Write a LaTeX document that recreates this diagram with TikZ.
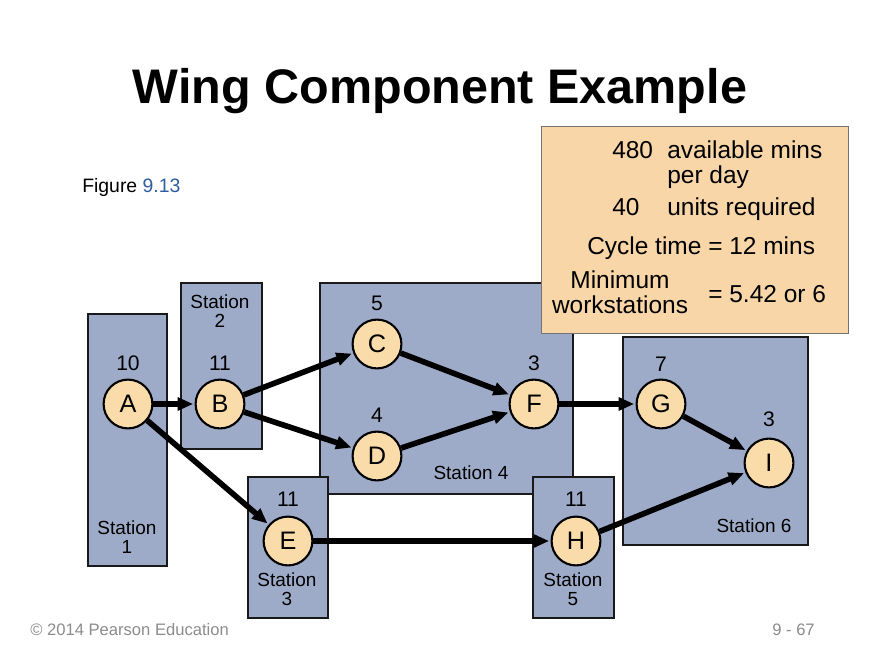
\documentclass[tikz,border=0pt]{standalone}
\usepackage{fontspec}
\setmainfont{Liberation Sans}
\usetikzlibrary{arrows.meta,positioning}
\definecolor{stationblue}{RGB}{158,171,200}
\definecolor{taskfill}{RGB}{250,220,170}
\definecolor{infofill}{RGB}{248,214,168}
\definecolor{figblue}{RGB}{46,94,160}

\begin{document}
\begin{tikzpicture}[
    x=0.025cm, y=-0.025cm,
    station/.style={draw=black!90, line width=2pt, fill=stationblue},
    task/.style={circle, draw, line width=1.5pt, fill=taskfill, minimum size=1.22cm, inner sep=0pt, font=\fontsize{18}{18}\selectfont},
    wt/.style={inner sep=0pt, font=\fontsize{15}{15}\selectfont},
    stlabel/.style={align=center, inner sep=0pt, font=\fontsize{13.5}{13.5}\selectfont},
    databox/.style={draw=black!55, line width=0.6pt, fill=infofill, minimum width=7.675cm, minimum height=5.175cm},
    infotext/.style={anchor=base west, inner sep=0pt, font=\fontsize{17.4}{20}\selectfont},
    flow/.style={-{Triangle[length=11pt, width=9pt]}, line width=4pt, shorten >=1pt}
]
\fill[white] (0,0) rectangle (880,660);
\useasboundingbox (0,0) rectangle (880,660);

\node[anchor=base, font=\bfseries\fontsize{34.5}{40}\selectfont] (title) at (440,103) {Wing Component Example};
\node[anchor=base west, inner sep=0pt, font=\fontsize{13.8}{14}\selectfont] (figref) at (82,192) {Figure \textcolor{figblue}{9.13}};

\draw[station] (88,314) rectangle (167,566);
\draw[station] (181,283) rectangle (262,449);
\draw[station] (320,283) rectangle (573,494);
\draw[station] (248,477) rectangle (328,618);
\draw[station] (533,477) rectangle (614,618);
\draw[station] (623,337) rectangle (808,545);

\node[stlabel] (st1) at (127,537) {Station\\1};
\node[stlabel] (st2) at (220,311) {Station\\2};
\node[stlabel] (st3) at (287,589) {Station\\3};
\node[stlabel] (st4) at (471,473) {Station 4};
\node[stlabel] (st5) at (573,589) {Station\\5};
\node[stlabel] (st6) at (754,526) {Station 6};

\node[databox] (data) at (694.5,229.5) {};
\node[infotext] (n480) at (612,158) {480};
\node[infotext] (avail) at (667,158) {available mins};
\node[infotext] (perday) at (667,183) {per day};
\node[infotext] (n40) at (612,215) {40};
\node[infotext] (units) at (667,215) {units required};
\node[infotext] (cycle) at (587,254) {Cycle time = 12 mins};
\node[infotext, anchor=base] (minimum) at (620,288) {Minimum};
\node[infotext, anchor=base] (workst) at (620,313) {workstations};
\node[infotext] (minval) at (708,302) {= 5.42 or 6};

\node[task] (A) at (128,404) {A};
\node[task] (B) at (220,404) {B};
\node[task] (C) at (377,344) {C};
\node[task] (D) at (377,456) {D};
\node[task] (E) at (288,541) {E};
\node[task] (F) at (534,404) {F};
\node[task] (G) at (661,404) {G};
\node[task] (H) at (576,541) {H};
\node[task] (I) at (769,463) {I};

\node[wt, above=0.19cm of A] (tA) {10};
\node[wt, above=0.19cm of B] (tB) {11};
\node[wt, above=0.19cm of C] (tC) {5};
\node[wt, above=0.19cm of D] (tD) {4};
\node[wt, above=0.21cm of E] (tE) {11};
\node[wt, above=0.19cm of F] (tF) {3};
\node[wt, above=0.17cm of G] (tG) {7};
\node[wt, above=0.21cm of H] (tH) {11};
\node[wt, above=0.26cm of I] (tI) {3};

\draw[flow] (A) -- (B);
\draw[flow] (A) -- (E);
\draw[flow] (B) -- (C);
\draw[flow] (B) -- (D);
\draw[flow] (C) -- (F);
\draw[flow] (D) -- (F);
\draw[flow] (F) -- (G);
\draw[flow] (G) -- (I);
\draw[flow] (E) -- (H);
\draw[flow] (H) -- (I);

\node[anchor=base west, inner sep=0pt, text=black!45, font=\fontsize{11.8}{12}\selectfont] (copy) at (30,635) {© 2014 Pearson Education};
\node[anchor=base east, inner sep=0pt, text=black!45, font=\fontsize{11.8}{12}\selectfont] (page) at (815,635) {9 - 67};
\end{tikzpicture}
\end{document}
